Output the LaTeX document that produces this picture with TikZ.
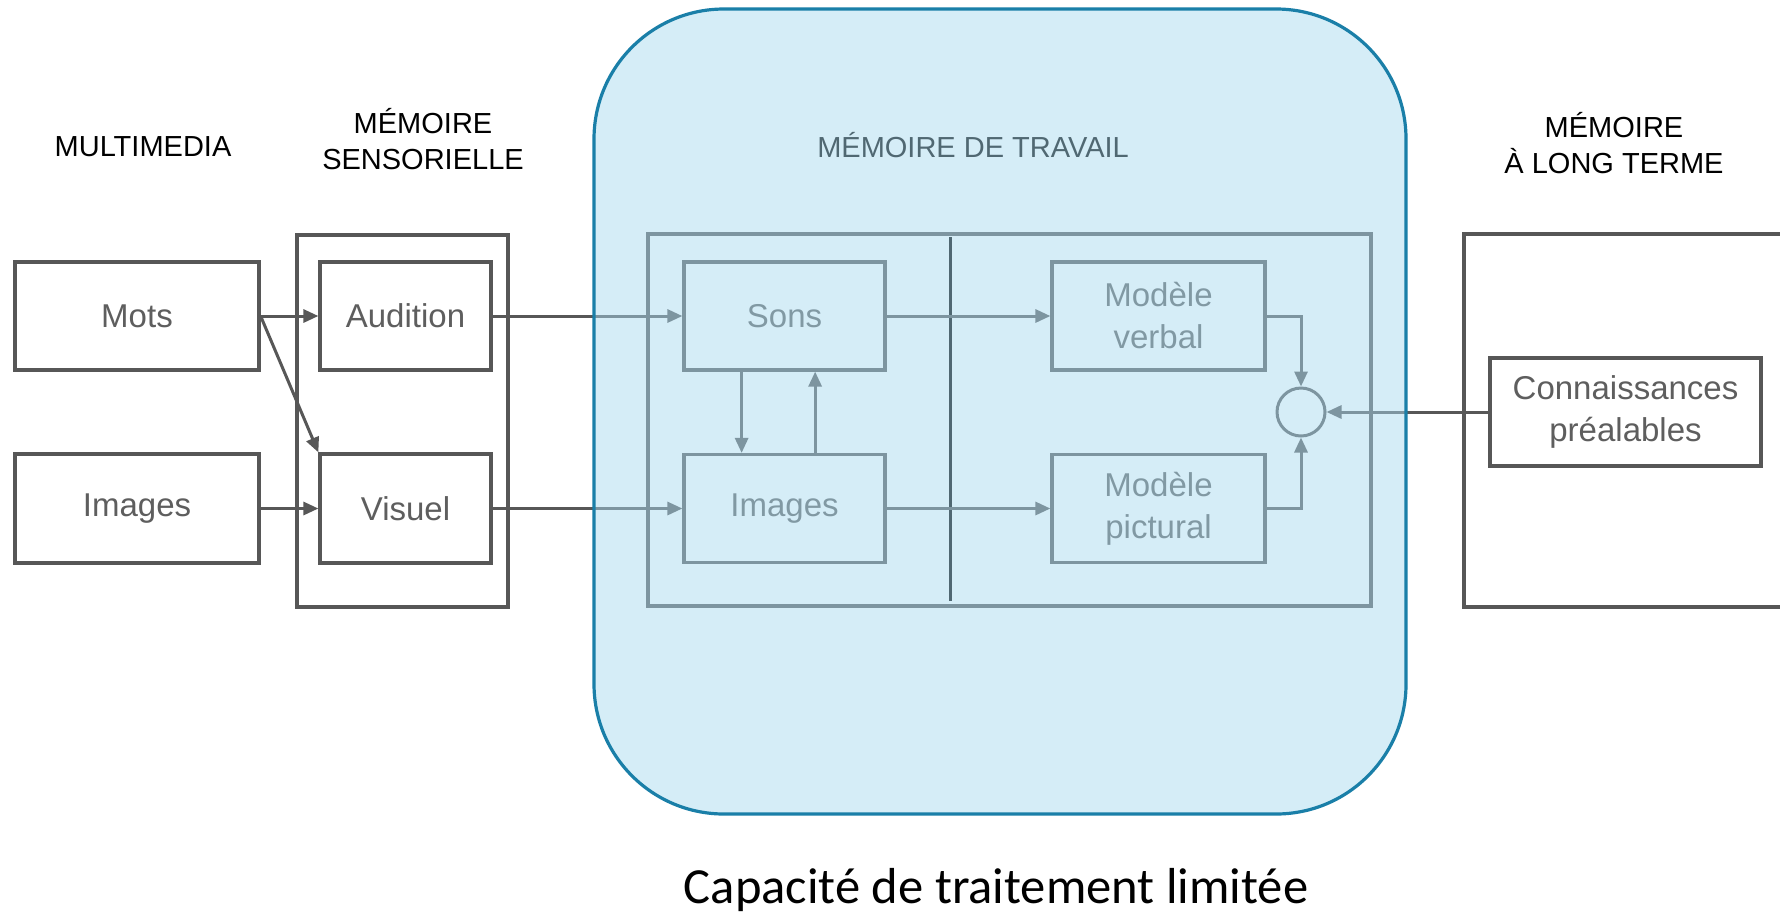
\documentclass[tikz,border=0pt]{standalone}
\usepackage{fontspec}
\setmainfont{Liberation Sans}
\newfontfamily\captionfont{Carlito}
\usetikzlibrary{arrows.meta,calc}
\definecolor{linegray}{HTML}{575757}
\definecolor{textgray}{HTML}{5E5E5E}
\definecolor{wmfill}{RGB}{168,218,240}
\definecolor{wmborder}{HTML}{1A7FA8}
\begin{document}
\begin{tikzpicture}[x=0.5pt,y=-0.5pt,
  box/.style={draw=linegray, line width=1.6pt, text=textgray, align=center,
    inner sep=0pt, font=\fontsize{16.5}{21}\selectfont},
  frame/.style={draw=linegray, line width=1.6pt, inner sep=0pt},
  conn/.style={draw=linegray, line width=1.5pt,
    -{Triangle[length=7.5pt,width=6.5pt]}},
  title/.style={text=black, align=center, inner sep=0pt,
    font=\fontsize{14.5}{18}\selectfont}]
\useasboundingbox (0,0) rectangle (1780,917);
\fill[white] (0,0) rectangle (1780,917);

% column titles
\node[title, anchor=base] (tmm) at (143,156) {MULTIMEDIA};
\node[title] (tsens) at (423,139) {MÉMOIRE\\SENSORIELLE};
\node[title, anchor=base] (twm) at (973,157) {MÉMOIRE DE TRAVAIL};
\node[title] (tltm) at (1614,143) {MÉMOIRE\\À LONG TERME};

% multimedia input
\node[box, minimum width=122pt, minimum height=54pt] (mots) at (137,316) {Mots};
\node[box, minimum width=122pt, minimum height=54.5pt] (imgs) at (137,508.5) {Images};

% sensory memory
\node[frame, minimum width=105.5pt, minimum height=186pt] (sens) at (402.5,421) {};
\node[box, minimum width=85.5pt, minimum height=54pt] (aud) at (405.5,316) {Audition};
\node[box, minimum width=85.5pt, minimum height=54.5pt] (vis) at (405.5,508.5) {Visuel};

% working memory contents
\node[frame, minimum width=361.5pt, minimum height=186pt] (wm) at (1009.5,420) {};
\coordinate (dtop) at (950,237);
\coordinate (dbot) at (950,601);
\draw[black, line width=1.5pt] (dtop) -- (dbot);
\node[box, minimum width=100.5pt, minimum height=54pt] (sons) at (784.5,316) {Sons};
\node[box, minimum width=100.5pt, minimum height=54pt] (wimg) at (784.5,508.5) {Images};
\node[box, minimum width=106.5pt, minimum height=54pt] (verbal) at (1158.5,316) {Modèle\\verbal};
\node[box, minimum width=106.5pt, minimum height=54pt] (pict) at (1158.5,508.5) {Modèle\\pictural};
\node[circle, draw=linegray, line width=1.5pt, minimum size=24pt, inner sep=0pt] (sum) at (1301,412) {};

% long-term memory
\draw[frame] (1790,234) -- (1464,234) -- (1464,607) -- (1790,607);
\node[box, minimum width=135.5pt, minimum height=54pt] (know) at (1625.5,412) {Connaissances\\préalables};

% connectors
\draw[conn] (mots.east) -- (aud.west);
\draw[conn] (mots.east) -- (vis.north west);
\draw[conn] (imgs.east) -- (vis.west);
\draw[conn] (aud.east) -- (sons.west);
\draw[conn] (vis.east) -- (wimg.west);
\draw[conn] ($(sons.south west)!0.29!(sons.south east)$) -- ($(wimg.north west)!0.29!(wimg.north east)$);
\draw[conn] ($(wimg.north west)!0.65!(wimg.north east)$) -- ($(sons.south west)!0.65!(sons.south east)$);
\draw[conn] (sons.east) -- (verbal.west);
\draw[conn] (wimg.east) -- (pict.west);
\draw[conn] (verbal.east) -| (sum.north);
\draw[conn] (pict.east) -| (sum.south);
\draw[conn] (know.west) -- (sum.east);

% translucent working-memory panel laid over its contents
\draw[wmborder, line width=1.6pt, fill=wmfill, fill opacity=0.48, rounded corners=65pt]
  (594,9) rectangle (1406,814);

% caption
\node[anchor=base, inner sep=0pt, font=\captionfont\fontsize{25.3}{30}\selectfont] (cap) at (996,903)
  {Capacité de traitement limitée};
\end{tikzpicture}
\end{document}
